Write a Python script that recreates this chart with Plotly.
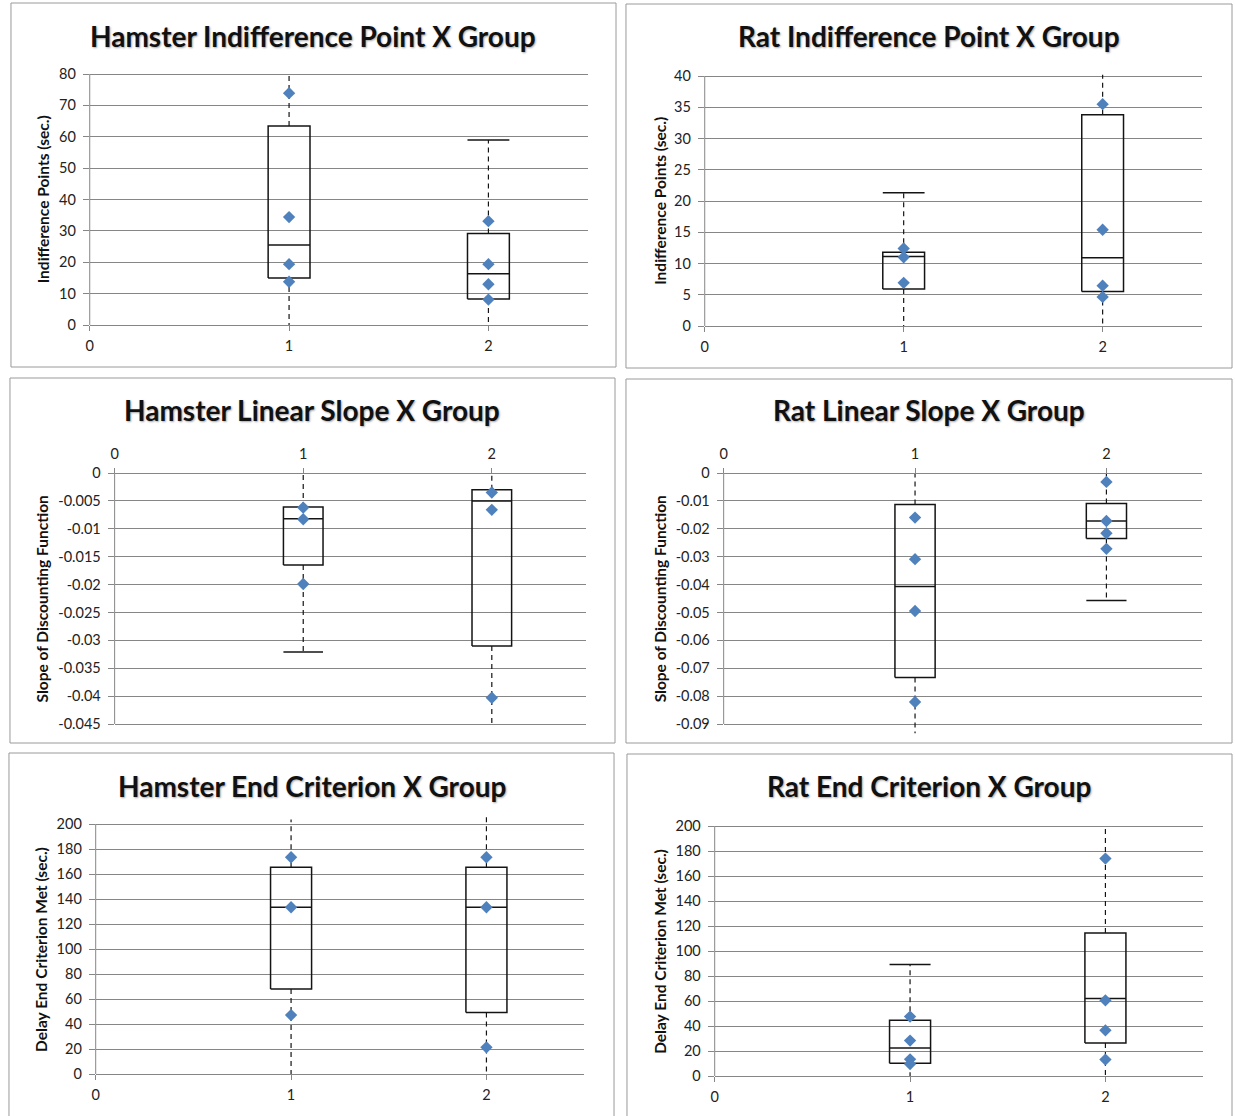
import plotly.graph_objects as go

W, H = 1235, 1116

GROUPS = [1, 2]

# ---- Hamster indifference point (sec.) ----
ham_ip_lo = [0.0, 0.0]
ham_ip_q1 = [15.0, 8.3]
ham_ip_med = [25.5, 16.3]
ham_ip_q3 = [63.4, 29.2]
ham_ip_hi = [80.3, 59.0]
ham_ip_pts = [[73.9, 34.4, 19.4, 13.8], [33.1, 19.4, 13.0, 8.1]]
ham_ip_ticks = [0, 10, 20, 30, 40, 50, 60, 70, 80]

# ---- Rat indifference point (sec.) ----
rat_ip_lo = [0.0, 0.0]
rat_ip_q1 = [5.9, 5.5]
rat_ip_med = [11.1, 10.9]
rat_ip_q3 = [11.8, 33.8]
rat_ip_hi = [21.3, 40.2]
rat_ip_pts = [[12.4, 11.0, 6.9], [35.5, 15.4, 6.45, 4.65]]
rat_ip_ticks = [0, 5, 10, 15, 20, 25, 30, 35, 40]

# ---- Hamster linear slope ----
ham_ls_lo = [-0.0321, -0.045]
ham_ls_q1 = [-0.0165, -0.0310]
ham_ls_med = [-0.0082, -0.0050]
ham_ls_q3 = [-0.0061, -0.0030]
ham_ls_hi = [0.0, 0.0]
ham_ls_pts = [[-0.0062, -0.0083, -0.0199], [-0.0035, -0.0066, -0.0403]]
ham_ls_ticks = [0, -0.005, -0.01, -0.015, -0.02, -0.025, -0.03, -0.035, -0.04, -0.045]
ham_ls_ticktext = ["0", "-0.005", "-0.01", "-0.015", "-0.02", "-0.025", "-0.03", "-0.035", "-0.04", "-0.045"]

# ---- Rat linear slope ----
rat_ls_lo = [-0.0933, -0.0457]
rat_ls_q1 = [-0.0733, -0.0235]
rat_ls_med = [-0.0407, -0.0172]
rat_ls_q3 = [-0.0113, -0.0109]
rat_ls_hi = [0.0, 0.0]
rat_ls_pts = [[-0.0160, -0.0309, -0.0495, -0.0821], [-0.0032, -0.0172, -0.0216, -0.0272]]
rat_ls_ticks = [0, -0.01, -0.02, -0.03, -0.04, -0.05, -0.06, -0.07, -0.08, -0.09]
rat_ls_ticktext = ["0", "-0.01", "-0.02", "-0.03", "-0.04", "-0.05", "-0.06", "-0.07", "-0.08", "-0.09"]

# ---- Hamster end criterion (sec.) ----
ham_ec_lo = [0.0, 0.0]
ham_ec_q1 = [67.9, 49.2]
ham_ec_med = [133.4, 133.4]
ham_ec_q3 = [165.4, 165.4]
ham_ec_hi = [203.7, 207.7]
ham_ec_pts = [[173.4, 133.4, 47.1], [173.4, 133.4, 21.3]]
ec_ticks = [0, 20, 40, 60, 80, 100, 120, 140, 160, 180, 200]

# ---- Rat end criterion (sec.) ----
rat_ec_lo = [0.0, 0.0]
rat_ec_q1 = [10.1, 26.4]
rat_ec_med = [22.4, 61.9]
rat_ec_q3 = [44.5, 114.4]
rat_ec_hi = [89.1, 200.0]
rat_ec_pts = [[47.5, 28.3, 13.3, 9.6], [173.9, 60.5, 36.5, 13.1]]

X_TICKS = [0, 1, 2]
X_RANGE = [0, 2.5]

FONT = "Lato, Carlito, Calibri, sans-serif"
GRID = "#868686"
BOX_LINE = "#141414"
DIAMOND = "#4f81bd"
HALF_W = 0.105      # half width of each box, in group units
PAD_PX = 14         # extra room above/below the axes for whiskers
TICK_SIZE = 14.5

panels = [
    dict(title="Hamster Indifference Point X Group", ylabel="Indifference Points (sec.)",
         lo=ham_ip_lo, q1=ham_ip_q1, med=ham_ip_med, q3=ham_ip_q3, hi=ham_ip_hi, pts=ham_ip_pts,
         ticks=ham_ip_ticks, ticktext=None, side="bottom",
         box=(86, 586, 74, 325), frame=(7, 3, 614, 367), title_y=35.5, ylab_x=40),
    dict(title="Rat Indifference Point X Group", ylabel="Indifference Points (sec.)",
         lo=rat_ip_lo, q1=rat_ip_q1, med=rat_ip_med, q3=rat_ip_q3, hi=rat_ip_hi, pts=rat_ip_pts,
         ticks=rat_ip_ticks, ticktext=None, side="bottom",
         box=(703, 1202, 76, 326), frame=(624, 4, 1232, 368), title_y=35.5, ylab_x=658),
    dict(title="Hamster Linear Slope X Group", ylabel="Slope of Discounting Function",
         lo=ham_ls_lo, q1=ham_ls_q1, med=ham_ls_med, q3=ham_ls_q3, hi=ham_ls_hi, pts=ham_ls_pts,
         ticks=ham_ls_ticks, ticktext=ham_ls_ticktext, side="top",
         box=(111, 584, 473, 724), frame=(6, 378, 613, 743), title_y=410.5, ylab_x=38),
    dict(title="Rat Linear Slope X Group", ylabel="Slope of Discounting Function",
         lo=rat_ls_lo, q1=rat_ls_q1, med=rat_ls_med, q3=rat_ls_q3, hi=rat_ls_hi, pts=rat_ls_pts,
         ticks=rat_ls_ticks, ticktext=rat_ls_ticktext, side="top",
         box=(722, 1202, 473, 724), frame=(624, 379, 1232, 743), title_y=410.5, ylab_x=658),
    dict(title="Hamster End Criterion X Group", ylabel="Delay End Criterion Met (sec.)",
         lo=ham_ec_lo, q1=ham_ec_q1, med=ham_ec_med, q3=ham_ec_q3, hi=ham_ec_hi, pts=ham_ec_pts,
         ticks=ec_ticks, ticktext=None, side="bottom",
         box=(92, 582, 824, 1074), frame=(5, 753, 612, 1125), title_y=785.5, ylab_x=37),
    dict(title="Rat End Criterion X Group", ylabel="Delay End Criterion Met (sec.)",
         lo=rat_ec_lo, q1=rat_ec_q1, med=rat_ec_med, q3=rat_ec_q3, hi=rat_ec_hi, pts=rat_ec_pts,
         ticks=ec_ticks, ticktext=None, side="bottom",
         box=(713, 1203, 826, 1076), frame=(625, 754, 1232, 1125), title_y=785.5, ylab_x=658),
]


def px_x(x):
    return x / W


def px_y(y):
    return 1 - y / H


fig = go.Figure()
layout = dict(
    width=W, height=H, margin=dict(l=0, r=0, t=0, b=0),
    paper_bgcolor="white", plot_bgcolor="rgba(0,0,0,0)",
    showlegend=False, font=dict(family=FONT, size=TICK_SIZE, color="#222222"),
)
shapes = []
annotations = []

for i, p in enumerate(panels, start=1):
    xa, ya = f"x{i}", f"y{i}"
    L, R, T, B = p["box"]
    ymin, ymax = min(p["ticks"]), max(p["ticks"])
    per_px = (ymax - ymin) / (B - T)
    yrange = [ymin - PAD_PX * per_px, ymax + PAD_PX * per_px]

    axis_y_px = B if p["side"] == "bottom" else T
    layout[f"xaxis{i}"] = dict(
        domain=[px_x(L), px_x(R)], range=X_RANGE, anchor="free", position=px_y(axis_y_px),
        side=p["side"], tickvals=X_TICKS, ticks="outside", ticklen=5, tickcolor=GRID,
        showline=True, linecolor=GRID, linewidth=1, showgrid=False, zeroline=False,
        tickfont=dict(family=FONT, size=TICK_SIZE, color="#222222"), ticklabelstandoff=3,
        fixedrange=True,
    )
    layout[f"yaxis{i}"] = dict(
        domain=[px_y(B + PAD_PX), px_y(T - PAD_PX)], range=yrange, anchor=xa,
        tickvals=p["ticks"], ticktext=p["ticktext"] if p["ticktext"] else [str(v) for v in p["ticks"]],
        ticks="outside", ticklen=6, tickcolor=GRID, showgrid=True, gridcolor=GRID, gridwidth=1,
        showline=False, zeroline=False, ticklabelstandoff=4,
        tickfont=dict(family=FONT, size=TICK_SIZE, color="#222222"), fixedrange=True,
    )

    # vertical axis line between the lowest and highest tick
    shapes.append(dict(type="line", xref="paper", yref=ya, x0=px_x(L), x1=px_x(L),
                       y0=ymin, y1=ymax, line=dict(color=GRID, width=1)))

    for g, lo, q1, med, q3, hi, pts in zip(GROUPS, p["lo"], p["q1"], p["med"], p["q3"], p["hi"], p["pts"]):
        dash = dict(color=BOX_LINE, width=1.2, dash="5px,4px")
        solid = dict(color=BOX_LINE, width=1.5)
        # whiskers
        fig.add_trace(go.Scatter(x=[g, g], y=[q3, hi], mode="lines", line=dash,
                                 xaxis=xa, yaxis=ya, hoverinfo="skip"))
        fig.add_trace(go.Scatter(x=[g, g], y=[q1, lo], mode="lines", line=dash,
                                 xaxis=xa, yaxis=ya, hoverinfo="skip"))
        # caps for whiskers that end inside the axis range
        for end in (lo, hi):
            if ymin < end < ymax:
                fig.add_trace(go.Scatter(x=[g - HALF_W, g + HALF_W], y=[end, end], mode="lines",
                                         line=solid, xaxis=xa, yaxis=ya, hoverinfo="skip"))
        # box and median
        fig.add_trace(go.Scatter(x=[g - HALF_W, g + HALF_W, g + HALF_W, g - HALF_W, g - HALF_W],
                                 y=[q1, q1, q3, q3, q1], mode="lines", line=solid,
                                 xaxis=xa, yaxis=ya, hoverinfo="skip"))
        fig.add_trace(go.Scatter(x=[g - HALF_W, g + HALF_W], y=[med, med], mode="lines", line=solid,
                                 xaxis=xa, yaxis=ya, hoverinfo="skip"))
        # individual observations
        fig.add_trace(go.Scatter(x=[g] * len(pts), y=pts, mode="markers",
                                 marker=dict(symbol="diamond", size=9.5, color=DIAMOND,
                                             line=dict(width=0)),
                                 xaxis=xa, yaxis=ya, hovertemplate="%{y}<extra></extra>"))

    fx0, fy0, fx1, fy1 = p["frame"]
    shapes.append(dict(type="rect", xref="paper", yref="paper",
                       x0=px_x(fx0), x1=px_x(fx1), y0=px_y(fy1), y1=px_y(fy0),
                       line=dict(color="#9a9a9a", width=1), fillcolor="rgba(0,0,0,0)", layer="below"))

    annotations.append(dict(text=f"<b>{p['title']}</b>", xref="paper", yref="paper",
                            x=px_x((fx0 + fx1) / 2), y=px_y(p["title_y"]),
                            xanchor="center", yanchor="middle", showarrow=False,
                            font=dict(family=FONT, size=28, color="#111111",
                                      shadow="1px 1px 2px rgba(0,0,0,0.35)")))
    annotations.append(dict(text=f"<b>{p['ylabel']}</b>", xref="paper", yref="paper",
                            x=px_x(p["ylab_x"]), y=px_y((T + B) / 2), textangle=-90,
                            xanchor="center", yanchor="middle", showarrow=False,
                            font=dict(family=FONT, size=15.5, color="#111111")))

layout["shapes"] = shapes
layout["annotations"] = annotations
fig.update_layout(**layout)

fig.write_html("out.html")
